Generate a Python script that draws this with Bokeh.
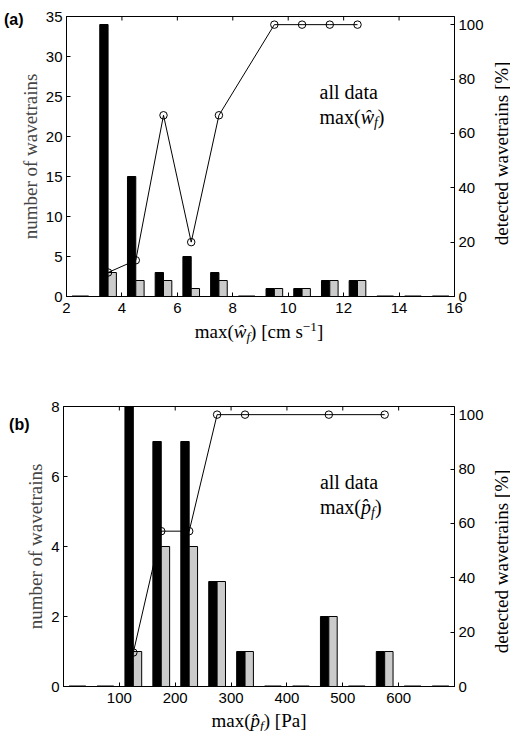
import numpy as np
from bokeh.plotting import figure
from bokeh.models import Range1d, LinearAxis, Label, FixedTicker, ColumnDataSource
from bokeh.layouts import column, row
from bokeh.embed import file_html
from bokeh.resources import INLINE

# ---------------- data ----------------
# panel (a): bins of max(w_f) [cm s^-1]
a_centers = [2.5, 3.5, 4.5, 5.5, 6.5, 7.5, 8.5, 9.5, 10.5, 11.5, 12.5, 13.5, 14.5, 15.5]
a_all = [0, 34, 15, 3, 5, 3, 0, 1, 1, 2, 2, 0, 0, 0]
a_detected = [0, 3, 2, 2, 1, 2, 0, 1, 1, 2, 2, 0, 0, 0]
a_xticks = [2, 4, 6, 8, 10, 12, 14, 16]
a_yticks = [0, 5, 10, 15, 20, 25, 30, 35]

# panel (b): bins of max(p_f) [Pa]
b_centers = [25, 75, 125, 175, 225, 275, 325, 375, 425, 475, 525, 575, 625, 675]
b_all = [0, 0, 8, 7, 7, 3, 1, 0, 0, 2, 0, 1, 0, 0]
b_detected = [0, 0, 1, 4, 4, 3, 1, 0, 0, 2, 0, 1, 0, 0]
b_xticks = [100, 200, 300, 400, 500, 600]
b_yticks = [0, 2, 4, 6, 8]

pct_ticks = [0, 20, 40, 60, 80, 100]

# ---------------- style ----------------
SERIF = "Liberation Serif"
SANS = "Liberation Sans"
FW, FH = 391, 280          # frame size (px)
PW = 490                   # width of a plot panel
RW = 20                    # width of the strip holding the right-hand label
BL, BR = 63, PW - 63 - FW
MID = 0.34                 # baseline -> em-box middle, in em

W_REG = {" ": .25, "(": .333, ")": .333, "[": .333, "]": .333, "a": .444, "c": .444,
         "d": .5, "l": .278, "m": .778, "s": .389, "t": .278, "x": .5, "P": .556,
         "1": .5, "\u2212": .564, "%": .833}
W_IT = {"\u0175": .667, "w": .667, "f": .278, "p": .5, "\u0302": 0.0}


def text_width(t, italic, size):
    tab = W_IT if italic else W_REG
    return sum(tab.get(ch, .5) for ch in t) * size


def rich_label(p, x, y, segs, size, align="center"):
    """segs: (text, italic, scale, dy_px); baseline at (x, y), drawn side by side."""
    widths = [text_width(t, it, size * sc) for t, it, sc, dy in segs]
    cur = -(sum(widths) / 2 if align == "center" else 0)
    for (t, it, sc, dy), w in zip(segs, widths):
        fs = size * sc
        p.add_layout(Label(x=x, y=y, x_offset=cur, y_offset=dy + MID * fs, text=t,
                           text_font=SERIF, text_font_size=f"{fs:.1f}px",
                           text_font_style="italic" if it else "normal",
                           text_align="left", text_baseline="middle",
                           text_color="black"))
        cur += w


def style_axis(ax, standoff):
    ax.axis_line_color = "black"
    ax.major_tick_line_color = "black"
    ax.major_tick_in = 4
    ax.major_tick_out = 0
    ax.minor_tick_line_color = None
    ax.major_label_text_font = SANS
    ax.major_label_text_font_size = "15px"
    ax.major_label_text_color = "black"
    ax.major_label_standoff = standoff


def panel(centers, n_all, n_det, binw, xr, yr, xticks, yticks, letter, letter_dy,
          border_top, border_bottom):
    p = figure(width=PW, height=border_top + FH + border_bottom,
               x_range=Range1d(*xr), y_range=Range1d(*yr),
               output_backend="svg", toolbar_location=None,
               min_border_left=BL, min_border_right=BR,
               min_border_top=border_top, min_border_bottom=border_bottom)
    p.title = None
    p.extra_y_ranges = {"pct": Range1d(0, 103)}
    p.xgrid.visible = False
    p.ygrid.visible = False
    p.outline_line_color = "black"
    p.background_fill_color = "white"
    p.border_fill_color = "white"

    half = 0.3 * binw
    src = ColumnDataSource(dict(
        n_all=n_all, n_det=n_det,
        bl=[c - half for c in centers], mid=list(centers),
        gr=[c + half for c in centers]))
    p.quad(left="bl", right="mid", bottom=0, top="n_all", source=src,
           fill_color="black", line_color="black", line_width=1)
    p.quad(left="mid", right="gr", bottom=0, top="n_det", source=src,
           fill_color="#cbcbcb", line_color="black", line_width=1)
    zc = [c for c, n in zip(centers, n_all) if n == 0]
    p.segment(x0=[c - half for c in zc], x1=[c + half for c in zc], y0=0, y1=0,
              line_color="black", line_width=2)

    # share of detected wavetrains per bin
    pc = [c for c, n in zip(centers, n_all) if n > 0]
    pv = [100.0 * d / n for d, n in zip(n_det, n_all) if n > 0]
    p.line(pc, pv, y_range_name="pct", line_color="black", line_width=1)
    p.scatter(pc, pv, y_range_name="pct", marker="circle", size=7.5,
              fill_color=None, line_color="black", line_width=1)

    # inward ticks on the top edge of the box
    tl = (yr[1] - yr[0]) * 4.0 / FH
    p.segment(x0=xticks, x1=xticks, y0=yr[1], y1=yr[1] - tl,
              line_color="black", line_width=1)

    style_axis(p.xaxis[0], 6)
    style_axis(p.yaxis[0], 4)
    p.xaxis[0].ticker = FixedTicker(ticks=xticks)
    p.yaxis[0].ticker = FixedTicker(ticks=yticks)
    p.yaxis[0].axis_label = "number of wavetrains"
    p.yaxis[0].axis_label_text_font = SERIF
    p.yaxis[0].axis_label_text_font_style = "normal"
    p.yaxis[0].axis_label_text_font_size = "19px"
    p.yaxis[0].axis_label_standoff = 2

    ra = LinearAxis(y_range_name="pct", ticker=FixedTicker(ticks=pct_ticks))
    style_axis(ra, 4)
    p.add_layout(ra, "right")

    # panel letter as the single tick label of an extra (invisible) left axis
    ly = yr[1] - (yr[1] - yr[0]) * letter_dy / FH
    la = LinearAxis(ticker=FixedTicker(ticks=[ly]),
                    major_label_overrides={ly: letter})
    la.axis_line_color = None
    la.major_tick_line_color = None
    la.minor_tick_line_color = None
    la.major_label_text_font = SANS
    la.major_label_text_font_style = "bold"
    la.major_label_text_font_size = "16px"
    la.major_label_text_color = "black"
    la.major_label_standoff = -13
    p.add_layout(la, "left")
    return p


def label_fig(w, h):
    f = figure(width=w, height=h, x_range=Range1d(0, w), y_range=Range1d(0, h),
               output_backend="svg", toolbar_location=None, min_border=0,
               x_axis_location=None, y_axis_location=None)
    f.title = None
    f.outline_line_color = None
    f.xgrid.visible = False
    f.ygrid.visible = False
    f.background_fill_color = "white"
    f.border_fill_color = "white"
    return f


def right_label(h, border_bottom):
    f = label_fig(RW, h)
    f.add_layout(Label(x=RW / 2.0 + 1, y=border_bottom + FH / 2.0,
                       text="detected wavetrains [%]", text_font=SERIF,
                       text_font_size="19px", angle=np.pi / 2, text_align="center",
                       text_baseline="middle", text_color="black"))
    return f


A_TOP, A_BOT = 16, 23
B_TOP, B_BOT = 62, 23
pa = panel(a_centers, a_all, a_detected, 1.0, (2, 16), (0, 35), a_xticks, a_yticks,
           "(a)", 2.5, A_TOP, A_BOT)
pb = panel(b_centers, b_all, b_detected, 50.0, (0, 700), (0, 8), b_xticks, b_yticks,
           "(b)", 18, B_TOP, B_BOT)
ra_a = right_label(A_TOP + FH + A_BOT, A_BOT)
ra_b = right_label(B_TOP + FH + B_BOT, B_BOT)

xa = label_fig(PW + RW, 25)
xb = label_fig(PW + RW, 22)

XC = BL + FW / 2.0
rich_label(xa, XC, 7, [("max(", False, 1, 0), ("\u0175", True, 1, 0), ("f", True, 0.7, -4),
                       (") [cm s", False, 1, 0), ("\u22121", False, 0.7, 6), ("]", False, 1, 0)],
           19)
rich_label(xb, XC, 5, [("max(", False, 1, 0), ("p\u0302", True, 1, 0), ("f", True, 0.7, -4),
                       (") [Pa]", False, 1, 0)],
           19)

# in-plot annotations (baselines)
rich_label(pa, 11.13, 24.75, [("all data", False, 1, 0)], 20, align="left")
rich_label(pa, 11.13, 21.6, [("max(", False, 1, 0), ("\u0175", True, 1, 0),
                             ("f", True, 0.7, -4), (")", False, 1, 0)], 20, align="left")
rich_label(pb, 459, 5.66, [("all data", False, 1, 0)], 20, align="left")
rich_label(pb, 459, 4.94, [("max(", False, 1, 0), ("p\u0302", True, 1, 0),
                           ("f", True, 0.7, -4), (")", False, 1, 0)], 20, align="left")

layout = column(row(pa, ra_a), xa, row(pb, ra_b), xb)
open("out.html", "w").write(file_html(layout, INLINE))
